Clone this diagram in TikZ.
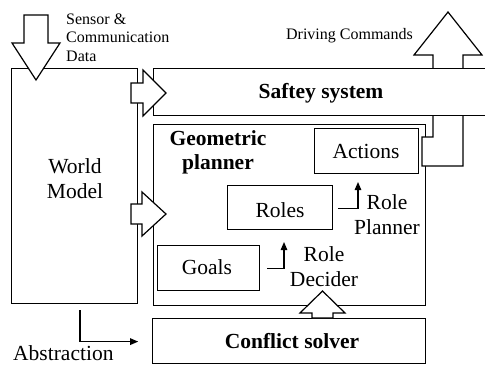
\documentclass[tikz,border=0pt]{standalone}
\usepackage{fontspec}
\setmainfont{Liberation Serif}
\usetikzlibrary{arrows.meta,calc}

\tikzset{
  box/.style={draw, fill=white, line width=1.2pt, inner sep=0pt, anchor=north west},
  blockarrow/.style={draw, fill=white, line width=1.2pt, line join=miter},
  conn/.style={line width=1.2pt, -{Triangle[length=8pt,width=6.5pt]}},
  big/.style={font=\fontsize{21.5}{24.5}\selectfont, inner sep=0pt},
  bigbold/.style={font=\fontsize{21.5}{24.5}\selectfont\bfseries, inner sep=0pt},
  small/.style={font=\fontsize{16}{18.5}\selectfont, inner sep=0pt},
}

\newcommand{\boxat}[5]{% name, x0, y0, x1, y1
  \node[box, minimum width={#4-#2}, minimum height={#5-#3}] (#1) at (#2,#3) {};}

\begin{document}
\begin{tikzpicture}[x=1pt, y=-1pt]
  \clip (0,0) rectangle (485,365);

  % main blocks
  \boxat{world}{11}{68}{137}{303}
  \boxat{geo}{153}{124}{425}{305}
  \boxat{actions}{314}{128}{418}{173}
  \boxat{roles}{227}{185}{332}{229}
  \boxat{goals}{157}{245}{259}{290}
  \boxat{conflict}{152}{318}{425}{363}

  % output arrow leaving the planner through the safety system
  \draw[blockarrow] (433,137) -- (433,55) -- (414,55) -- (448,12) -- (482,55)
    -- (463,55) -- (463,166) -- (422,166) -- (422,137) -- cycle;

  \boxat{safety}{153}{68}{520}{115}

  % block arrows from the world model
  \draw[blockarrow] (131,83) -- (143,83) -- (143,70) -- (166,93) -- (143,116)
    -- (143,103) -- (131,103) -- cycle;
  \draw[blockarrow] (131,204) -- (142,204) -- (142,192) -- (166,214) -- (142,236)
    -- (142,224) -- (131,224) -- cycle;

  % sensor input arrow
  \draw[blockarrow] (24,15) -- (48,15) -- (48,43) -- (60,43) -- (36,80)
    -- (12,43) -- (24,43) -- cycle;

  % conflict solver feeding the planner
  \draw[blockarrow] (312,318) -- (312,313) -- (300,313) -- (322.5,291)
    -- (345,313) -- (333,313) -- (333,318) -- cycle;

  % texts (multi-line nodes sit on the baseline of their last line)
  \node[small, align=left, anchor=base west] (sensor) at (66,61)
    {Sensor \&\\Communication\\Data};
  \node[small, anchor=base east] (driving) at (413,39) {Driving Commands};
  \node[bigbold, anchor=base] (safetytext) at (321,98) {Saftey system};
  \node[big, align=center, anchor=base] (worldtext) at (75,198) {World\\Model};
  \node[bigbold, align=center, anchor=base] (geotext) at (218,169.5) {Geometric\\planner};
  \node[big, anchor=base] (actionstext) at (366,158) {Actions};
  \node[big, anchor=base] (rolestext) at (280,217) {Roles};
  \node[big, anchor=base] (goalstext) at (207,274) {Goals};
  \node[big, align=center, anchor=base] (rplanner) at (387,234) {Role\\Planner};
  \node[big, align=center, anchor=base] (rdecider) at (324,286) {Role\\Decider};
  \node[bigbold, anchor=base] (conflicttext) at (292,348) {Conflict solver};
  \node[big, anchor=base west] (abstr) at (13,360.5) {Abstraction};

  % thin connectors
  \coordinate (rdtip) at (284,242);
  \coordinate (rptip) at (358,182);
  \coordinate (abstart) at (80,310);
  \draw[conn] ($(goals.east)+(7,0.5)$) -| (rdtip);
  \draw[conn] ($(roles.east)+(5,1)$) -| (rptip);
  \draw[conn] (abstart) |- ($(world.east)+(0,341-185.5)$);
\end{tikzpicture}
\end{document}
